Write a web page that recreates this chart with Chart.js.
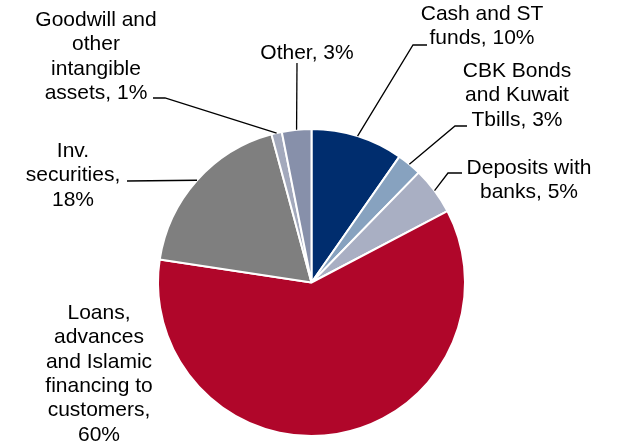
<!DOCTYPE html>
<html>
<head>
<meta charset="utf-8">
<script src="https://cdn.jsdelivr.net/npm/chart.js@4.4.1/dist/chart.umd.min.js"></script>
<style>
html,body{margin:0;padding:0;background:#fff;}
#wrap{width:623px;height:445px;}
</style>
</head>
<body>
<div id="wrap"><canvas id="c" width="623" height="445"></canvas></div>
<script>
// ---- data ----
const categories = [
  "Cash and ST funds",
  "CBK Bonds and Kuwait Tbills",
  "Deposits with banks",
  "Loans, advances and Islamic financing to customers",
  "Inv. securities",
  "Goodwill and other intangible assets",
  "Other"
];
const shares = [9.7, 2.6, 5.0, 60.1, 18.4, 1.1, 3.1];
const colors = ["#002D6E", "#87A2BF", "#A9AFC3", "#B0062A", "#7F7F7F", "#A3A9BC", "#8790AA"];

// ---- label layout (text placement and leader elbows) ----
const labelLayout = [
  {words:[3,2],        x:482, y:14,  pts:[[427,45],[413,45]]},
  {words:[2,2,2],      x:517, y:71,  pts:[[467,126],[455,126]]},
  {words:[2,2],        x:529, y:168, pts:[[462,173],[448,173]]},
  {words:[1,1,2,2,1,1],x:99,  y:313, pts:null},
  {words:[1,1,1],      x:73,  y:151, pts:[[127,181]]},
  {words:[2,1,1,2],    x:96,  y:20,  pts:[[153,98],[165,98]]},
  {words:[2],          x:307, y:53,  pts:[[297,63]]}
];
const lineH = 24.4;

const labelPlugin = {
  id: 'pieLabels',
  afterDatasetsDraw(chart) {
    const ctx = chart.ctx;
    const meta = chart.getDatasetMeta(0);
    ctx.save();
    ctx.font = '21px "Liberation Sans", Arial, sans-serif';
    ctx.fillStyle = '#000';
    ctx.textAlign = 'center';
    ctx.textBaseline = 'middle';
    meta.data.forEach((arc, i) => {
      const p = arc.getProps(['x','y','startAngle','endAngle','outerRadius'], true);
      const mid = (p.startAngle + p.endAngle) / 2;
      const ax = p.x + Math.cos(mid) * p.outerRadius;
      const ay = p.y + Math.sin(mid) * p.outerRadius;
      const L = labelLayout[i];
      const text = categories[i] + ', ' + Math.round(shares[i]) + '%';
      const words = text.split(' ');
      let k = 0;
      const lines = L.words.map(n => { const s = words.slice(k, k + n).join(' '); k += n; return s; });
      lines.forEach((ln, j) => ctx.fillText(ln, L.x, L.y + j * lineH));
      if (L.pts) {
        ctx.beginPath();
        ctx.strokeStyle = '#000';
        ctx.lineWidth = 1.3;
        ctx.moveTo(ax, ay);
        for (let q = L.pts.length - 1; q >= 0; q--) ctx.lineTo(L.pts[q][0], L.pts[q][1]);
        ctx.stroke();
      }
    });
    ctx.restore();
  }
};

new Chart(document.getElementById('c'), {
  type: 'pie',
  data: {
    labels: categories,
    datasets: [{
      data: shares,
      backgroundColor: colors,
      borderColor: '#ffffff',
      borderWidth: 2
    }]
  },
  options: {
    responsive: false,
    animation: false,
    layout: {padding: {top: 128, bottom: 8, left: 0, right: 0}},
    plugins: {legend: {display: false}, tooltip: {enabled: false}}
  },
  plugins: [labelPlugin]
});
</script>
</body>
</html>
